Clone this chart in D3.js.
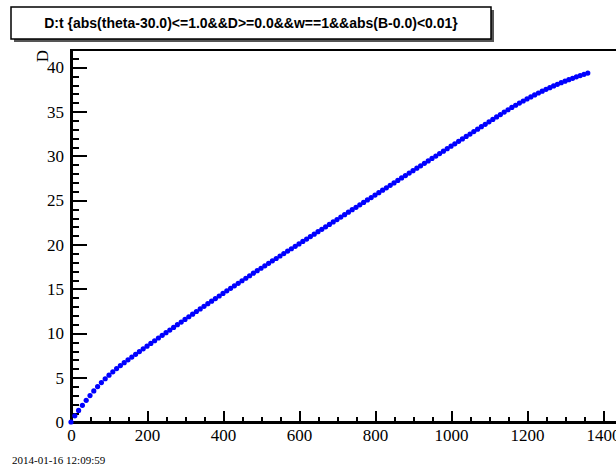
<!DOCTYPE html>
<meta charset="utf-8">
<title>D:t</title>
<style>
body { margin: 0; background: #fff; }
.axis path, .axis line { fill: none; stroke: #000; stroke-width: 2; shape-rendering: crispEdges; }
.axis text { font: 17px "Liberation Serif", "Times New Roman", serif; fill: #000; }
</style>
<body>
<script src="https://d3js.org/d3.v7.min.js"></script>
<script>

// data
var tValues = [0,10,20,30,40,50,60,70,80,90,100,110,120,130,140,150,160,170,180,190,
  200,210,220,230,240,250,260,270,280,290,300,310,320,330,340,350,360,370,380,390,
  400,410,420,430,440,450,460,470,480,490,500,510,520,530,540,550,560,570,580,590,
  600,610,620,630,640,650,660,670,680,690,700,710,720,730,740,750,760,770,780,790,
  800,810,820,830,840,850,860,870,880,890,900,910,920,930,940,950,960,970,980,990,
  1000,1010,1020,1030,1040,1050,1060,1070,1080,1090,1100,1110,1120,1130,1140,1150,1160,1170,1180,1190,
  1200,1210,1220,1230,1240,1250,1260,1270,1280,1290,1300,1310,1320,1330,1340,1350,1360];
var dValues = [0,0.7,1.3,1.88,2.44,2.98,3.5,3.99,4.45,4.88,5.28,5.66,6.02,6.36,6.69,7.01,7.32,7.63,7.94,8.25,
  8.55,8.86,9.16,9.47,9.77,10.07,10.37,10.67,10.97,11.27,11.57,11.87,12.16,12.46,12.75,13.05,13.34,13.63,13.92,14.21,
  14.5,14.79,15.07,15.36,15.64,15.93,16.21,16.49,16.78,17.06,17.34,17.61,17.89,18.17,18.44,18.72,18.99,19.27,19.54,19.81,
  20.08,20.36,20.63,20.91,21.18,21.46,21.73,22.01,22.28,22.56,22.83,23.11,23.38,23.66,23.94,24.21,24.49,24.76,25.04,25.31,
  25.59,25.86,26.14,26.41,26.69,26.96,27.24,27.52,27.79,28.07,28.34,28.62,28.89,29.17,29.44,29.72,29.99,30.27,30.54,30.82,
  31.1,31.37,31.65,31.92,32.2,32.47,32.75,33.02,33.3,33.57,33.85,34.12,34.4,34.67,34.95,35.21,35.47,35.72,35.96,36.2,
  36.43,36.66,36.88,37.1,37.31,37.51,37.7,37.9,38.08,38.26,38.43,38.6,38.76,38.92,39.07,39.21,39.35];

var xMajor = [0,200,400,600,800,1000,1200,1400];
var yMajor = [0,5,10,15,20,25,30,35,40];
var titleText = "D:t {abs(theta-30.0)<=1.0&&D>=0.0&&w==1&&abs(B-0.0)<0.01}";
var yTitle = "D";
var stamp = "2014-01-16 12:09:59";

var width = 616, height = 470;
var frame = {left: 71, top: 50, right: 641, bottom: 422};

var svg = d3.select("body").append("svg")
  .attr("width", width)
  .attr("height", height);

var x = d3.scaleLinear().domain([0, 1500]).range([frame.left, frame.right]);
var y = d3.scaleLinear().domain([0, 41.95]).range([frame.bottom, frame.top]);

// minor ticks
var xMinor = d3.range(0, 1500, 50).filter(function(v) { return v % 200 != 0; });
var yMinor = d3.range(0, 42, 1).filter(function(v) { return v % 5 != 0; });

// frame
svg.append("rect")
  .attr("x", frame.left).attr("y", frame.top)
  .attr("width", frame.right - frame.left).attr("height", frame.bottom - frame.top)
  .attr("fill", "none").attr("stroke", "#000").attr("stroke-width", 2)
  .attr("shape-rendering", "crispEdges");

// x axis
svg.append("g").attr("class", "axis")
  .attr("transform", "translate(0," + frame.bottom + ")")
  .call(d3.axisBottom(x).tickValues(xMinor).tickSize(-5.5).tickSizeOuter(0).tickFormat(""));
svg.append("g").attr("class", "axis")
  .attr("transform", "translate(0," + frame.bottom + ")")
  .call(d3.axisBottom(x).tickValues(xMajor).tickSize(-11).tickSizeOuter(0).tickPadding(7).tickFormat(d3.format("d")));

// y axis
svg.append("g").attr("class", "axis")
  .attr("transform", "translate(" + frame.left + ",0)")
  .call(d3.axisLeft(y).tickValues(yMinor).tickSize(-8).tickSizeOuter(0).tickFormat(""));
svg.append("g").attr("class", "axis")
  .attr("transform", "translate(" + frame.left + ",0)")
  .call(d3.axisLeft(y).tickValues(yMajor).tickSize(-16).tickSizeOuter(0).tickPadding(7).tickFormat(d3.format("d")));

// y title
svg.append("text")
  .attr("transform", "translate(48,56) rotate(-90)")
  .attr("text-anchor", "middle")
  .style("font", "17px 'Liberation Serif', serif")
  .text(yTitle);

// points
var pts = tValues.map(function(t, i) { return {t: t, d: dValues[i]}; });
svg.append("g").selectAll("circle")
  .data(pts)
  .enter().append("circle")
  .attr("cx", function(p) { return x(p.t); })
  .attr("cy", function(p) { return y(p.d); })
  .attr("r", 2.6)
  .attr("fill", "#0000ff");

// title box with shadow
svg.append("rect")
  .attr("x", 14).attr("y", 10).attr("width", 480).attr("height", 32)
  .attr("fill", "#555");
svg.append("rect")
  .attr("x", 11).attr("y", 7).attr("width", 480).attr("height", 32)
  .attr("fill", "#fff").attr("stroke", "#000").attr("stroke-width", 1.5);
svg.append("text")
  .attr("x", 251).attr("y", 28)
  .attr("text-anchor", "middle")
  .style("font", "bold 14px 'Liberation Sans', Arial, sans-serif")
  .text(titleText);

// date stamp
svg.append("text")
  .attr("x", 12).attr("y", 464)
  .style("font", "11px 'Liberation Serif', serif")
  .text(stamp);

</script>
</body>
